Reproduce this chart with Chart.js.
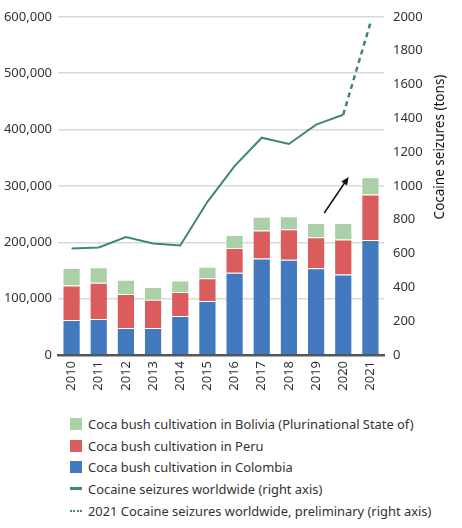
<!DOCTYPE html>
<html>
<head>
<meta charset="utf-8">
<script src="https://cdn.jsdelivr.net/npm/chart.js@4.4.1/dist/chart.umd.min.js"></script>
<style>
  body { margin: 0; background: #fff; font-family: "Noto Sans", sans-serif; }
  #wrap { position: relative; width: 462px; height: 405px; }
  #legend { margin: 8px 0 0 70px; padding: 0; list-style: none; font-size: 12.9px; color: #333; }
  #legend li { display: flex; align-items: center; height: 21.7px; }
  #legend .box { width: 12px; height: 12px; margin-right: 6px; flex: none; }
  #legend .ln { width: 12px; height: 0; margin-right: 6px; flex: none; }
</style>
</head>
<body>
<div id="wrap"><canvas id="cocaChart"></canvas></div>
<ul id="legend"></ul>
<script>
// years on the x axis
const years = ['2010', '2011', '2012', '2013', '2014', '2015', '2016', '2017', '2018', '2019', '2020', '2021'];

// coca bush cultivation (hectares), stacked bars on the left axis
const colombia = [62000, 64000, 48000, 48000, 69000, 96000, 146000, 171000, 169000, 154000, 143000, 204000];
const peru = [61200, 64400, 60400, 49800, 42900, 40300, 43900, 49900, 54100, 54700, 61800, 80700];
const bolivia = [31000, 27200, 25300, 23000, 20400, 20200, 23100, 24500, 23100, 25500, 29400, 30500];

// cocaine seizures worldwide (tons), right axis
const seizures = [630, 636, 697, 660, 648, 906, 1117, 1285, 1248, 1362, 1421, null];
const seizuresPrelim = [null, null, null, null, null, null, null, null, null, null, 1421, 1964];

// arrow annotation: [category index, left-axis value]
const arrowFrom = [9.3, 252000];
const arrowTo = [10.2, 316000];

const rightTitle = 'Cocaine seizures (tons)';

const tickFont = { family: 'Noto Sans', size: 13 };
const tickColor = '#333';

// draws the arrow and the rotated right axis title
const extrasPlugin = {
    id: 'extras',
    afterDatasetsDraw(chart) {
        const { ctx, scales } = chart;
        const x0 = scales.x.getPixelForValue(arrowFrom[0]);
        const y0 = scales.y.getPixelForValue(arrowFrom[1]);
        const x1 = scales.x.getPixelForValue(arrowTo[0]);
        const y1 = scales.y.getPixelForValue(arrowTo[1]);
        const ang = Math.atan2(y1 - y0, x1 - x0);
        ctx.save();
        ctx.strokeStyle = '#111';
        ctx.fillStyle = '#111';
        ctx.lineWidth = 1.5;
        ctx.beginPath();
        ctx.moveTo(x0, y0);
        ctx.lineTo(x1 - 5 * Math.cos(ang), y1 - 5 * Math.sin(ang));
        ctx.stroke();
        ctx.beginPath();
        ctx.moveTo(x1, y1);
        ctx.lineTo(x1 - 8 * Math.cos(ang) + 3.5 * Math.sin(ang), y1 - 8 * Math.sin(ang) - 3.5 * Math.cos(ang));
        ctx.lineTo(x1 - 8 * Math.cos(ang) - 3.5 * Math.sin(ang), y1 - 8 * Math.sin(ang) + 3.5 * Math.cos(ang));
        ctx.closePath();
        ctx.fill();
        ctx.restore();
    },
    afterDraw(chart) {
        const { ctx } = chart;
        ctx.save();
        ctx.translate(440, 147);
        ctx.rotate(-Math.PI / 2);
        ctx.font = '13.5px "Noto Sans"';
        ctx.fillStyle = '#111';
        ctx.textAlign = 'center';
        ctx.textBaseline = 'middle';
        ctx.fillText(rightTitle, 0, 0);
        ctx.restore();
    }
};

const ctx = document.getElementById('cocaChart').getContext('2d');

const myChart = new Chart(ctx, {
    type: 'bar',
    data: {
        labels: years,
        datasets: [
            {
                type: 'line',
                label: 'Cocaine seizures worldwide (right axis)',
                data: seizures,
                yAxisID: 'y1',
                borderColor: '#3f8a66',
                borderWidth: 2,
                pointRadius: 0,
                order: 0,
                legendKind: 'line'
            },
            {
                type: 'line',
                label: '2021 Cocaine seizures worldwide, preliminary (right axis)',
                data: seizuresPrelim,
                yAxisID: 'y1',
                borderColor: '#3f8a66',
                borderWidth: 2.5,
                borderDash: [5, 4],
                pointRadius: 0,
                order: 0,
                legendKind: 'dots'
            },
            {
                label: 'Coca bush cultivation in Colombia',
                data: colombia,
                backgroundColor: '#4279bf',
                borderColor: 'rgba(255,255,255,0.35)',
                borderWidth: 1,
                stack: 'coca',
                order: 1,
                legendKind: 'box'
            },
            {
                label: 'Coca bush cultivation in Peru',
                data: peru,
                backgroundColor: '#db5c5c',
                borderColor: 'rgba(255,255,255,0.35)',
                borderWidth: 1,
                stack: 'coca',
                order: 1,
                legendKind: 'box'
            },
            {
                label: 'Coca bush cultivation in Bolivia (Plurinational State of)',
                data: bolivia,
                backgroundColor: '#abcfa6',
                borderColor: 'rgba(255,255,255,0.35)',
                borderWidth: 1,
                stack: 'coca',
                order: 1,
                legendKind: 'box'
            }
        ]
    },
    options: {
        responsive: true,
        maintainAspectRatio: false,
        animation: false,
        layout: { padding: { top: 10, left: 0, right: 0, bottom: 0 } },
        datasets: {
            bar: { categoryPercentage: 1, barPercentage: 0.67 }
        },
        plugins: {
            legend: { display: false },
            tooltip: { enabled: false }
        },
        scales: {
            x: {
                stacked: true,
                grid: { display: false, drawTicks: false },
                border: { color: '#555', width: 2.5 },
                ticks: {
                    font: tickFont,
                    color: tickColor,
                    minRotation: 90,
                    maxRotation: 90,
                    padding: 6
                },
                afterFit(scale) { scale.height = 50; }
            },
            y: {
                stacked: true,
                position: 'left',
                min: 0,
                max: 600000,
                grid: { color: '#d9d9d9', lineWidth: 1.5, drawTicks: false },
                border: { display: false },
                ticks: {
                    stepSize: 100000,
                    font: tickFont,
                    color: tickColor,
                    padding: 6,
                    callback: v => v.toLocaleString('en-US')
                },
                afterFit(scale) { scale.width = 58; }
            },
            y1: {
                position: 'right',
                min: 0,
                max: 2000,
                grid: { display: false, drawTicks: false },
                border: { display: false },
                ticks: {
                    stepSize: 200,
                    font: tickFont,
                    color: tickColor,
                    padding: 9,
                    callback: v => String(v)
                },
                afterFit(scale) { scale.width = 78; }
            }
        }
    },
    plugins: [extrasPlugin]
});

// html legend, order as in the reference
const legendOrder = [4, 3, 2, 0, 1];
const legendEl = document.getElementById('legend');
legendOrder.forEach(i => {
    const ds = myChart.data.datasets[i];
    const li = document.createElement('li');
    const mark = document.createElement('span');
    if (ds.legendKind === 'box') {
        mark.className = 'box';
        mark.style.background = ds.backgroundColor;
    } else {
        mark.className = 'ln';
        mark.style.borderTop = (ds.legendKind === 'dots' ? '2px dotted ' : '3px solid ') + ds.borderColor;
    }
    li.appendChild(mark);
    li.appendChild(document.createTextNode(ds.label));
    legendEl.appendChild(li);
});
</script>
</body>
</html>
